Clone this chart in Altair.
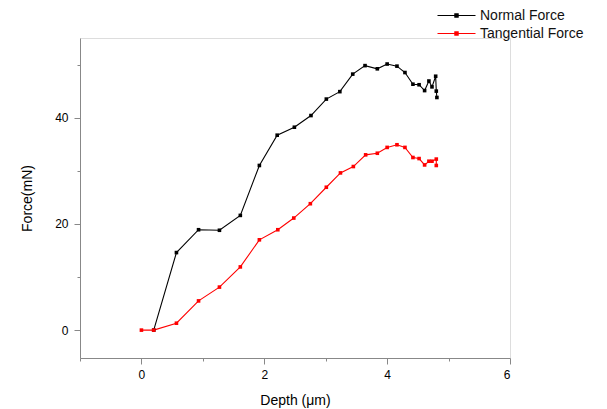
import altair as alt
import pandas as pd

normal_depth = [0.20, 0.57, 0.93, 1.27, 1.61, 1.92, 2.21, 2.49, 2.76, 3.01, 3.23, 3.44, 3.64, 3.84, 4.00,
                4.16, 4.29, 4.42, 4.52, 4.61, 4.68, 4.73, 4.79, 4.80, 4.81]
normal_force = [0.0, 14.6, 18.9, 18.8, 21.6, 31.0, 36.7, 38.2, 40.4, 43.5, 44.9, 48.2, 49.8, 49.2, 50.1,
                49.7, 48.5, 46.3, 46.2, 45.1, 46.9, 45.8, 47.8, 45.0, 43.8]

tang_depth = [0.00, 0.20, 0.57, 0.93, 1.27, 1.61, 1.92, 2.22, 2.48, 2.75, 3.01, 3.24, 3.45, 3.65, 3.84,
              4.00, 4.16, 4.29, 4.42, 4.52, 4.61, 4.68, 4.73, 4.80, 4.80]
tang_force = [0.0, 0.0, 1.3, 5.5, 8.1, 11.9, 17.0, 18.9, 21.1, 23.8, 26.9, 29.6, 30.8, 33.0, 33.3,
              34.4, 34.9, 34.4, 32.5, 32.3, 31.1, 31.8, 31.8, 32.2, 31.0]

series_names = ["Normal Force", "Tangential Force"]
series_colors = ["#000000", "#ff0000"]

x_major = [0, 2, 4, 6]
x_minor = [-1, 1, 3, 5]
y_major = [0, 20, 40]
y_minor = [10, 30, 50]

rows = []
for i, (d, f) in enumerate(zip(normal_depth, normal_force)):
    rows.append({"series": series_names[0], "depth": d, "force": f, "idx": i})
for i, (d, f) in enumerate(zip(tang_depth, tang_force)):
    rows.append({"series": series_names[1], "depth": d, "force": f, "idx": i})
df = pd.DataFrame(rows)

FONT = "Liberation Sans"
x_scale = alt.Scale(domain=[-1, 6], nice=False, zero=False)
y_scale = alt.Scale(domain=[-5.25, 55], nice=False, zero=False)
color_scale = alt.Scale(domain=series_names, range=series_colors)

color = alt.Color(
    "series:N",
    scale=color_scale,
    legend=alt.Legend(
        title=None, orient="none", legendX=366, legendY=-33,
        symbolType="M-2,0H2M-0.17,-0.17H0.17V0.17H-0.17Z",
        symbolSize=361, symbolStrokeWidth=1.2,
        labelFont=FONT, labelFontSize=14, labelColor="#111",
        rowPadding=0, labelOffset=13, padding=0,
    ),
)

x = alt.X(
    "depth:Q", scale=x_scale,
    axis=alt.Axis(
        title="Depth (\u03bcm)", values=x_major, grid=False, tickSize=6,
        labelPadding=5, titlePadding=13, titleFontWeight="normal",
        titleFontSize=14, labelFontSize=12,
    ),
)
y = alt.Y(
    "force:Q", scale=y_scale,
    axis=alt.Axis(
        title="Force(mN)", values=y_major, grid=False, tickSize=6,
        labelPadding=6, titlePadding=20, titleFontWeight="normal",
        titleFontSize=14, labelFontSize=12, orient="left",
    ),
)

base = alt.Chart(df)
lines = base.mark_line(strokeWidth=1.1).encode(x=x, y=y, color=color, order="idx:Q", detail="series:N")
points = base.mark_point(shape="square", filled=True, size=13, opacity=1).encode(
    x=alt.X("depth:Q", scale=x_scale, axis=None),
    y=alt.Y("force:Q", scale=y_scale, axis=None),
    color=alt.Color("series:N", scale=color_scale, legend=None),
)
minor = base.mark_point(opacity=0).encode(
    x=alt.X("depth:Q", scale=x_scale,
            axis=alt.Axis(title=None, values=x_minor, labels=False, domain=False, grid=False,
                          tickSize=3, orient="bottom")),
    y=alt.Y("force:Q", scale=y_scale,
            axis=alt.Axis(title=None, values=y_minor, labels=False, domain=False, grid=False,
                          tickSize=3, orient="left")),
)

chart = (
    alt.layer(lines, points, minor)
    .resolve_axis(x="independent", y="independent")
    .properties(width=430, height=320, autosize=alt.AutoSizeParams(type="none"),
                padding={"left": 72, "top": 30, "right": 89, "bottom": 51})
    .configure_view(stroke=None)
    .configure_axis(
        domainColor="#333", tickColor="#333", labelColor="#333", titleColor="#222",
        labelFont=FONT, titleFont=FONT, domainWidth=1.2, tickWidth=1,
    )
    .configure(background="white")
)

chart.save("out.html", embed_options={"renderer": "svg", "actions": False})
